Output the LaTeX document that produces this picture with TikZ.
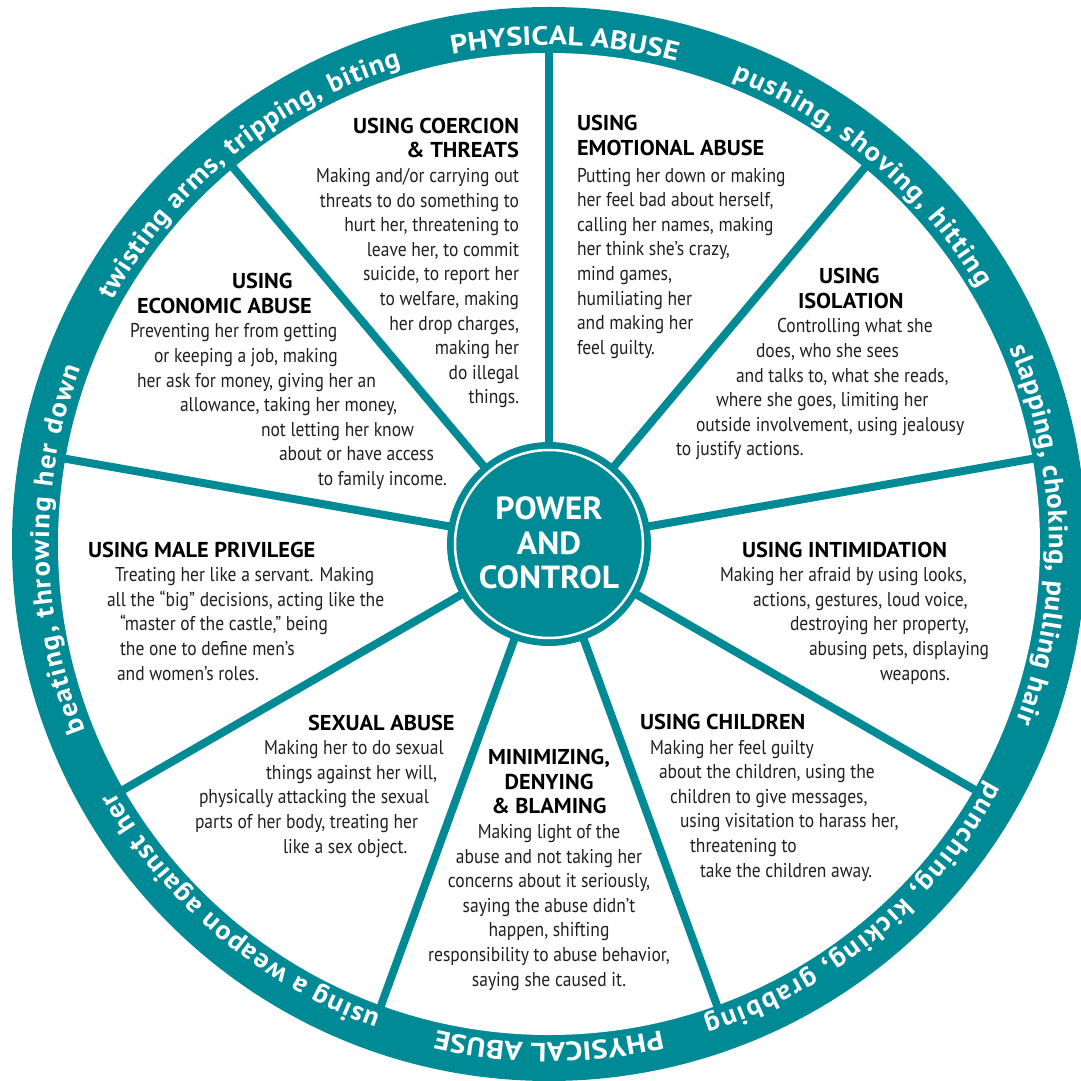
\documentclass[tikz,border=0pt]{standalone}
\usepackage{fontspec}
\usetikzlibrary{decorations.text}
\newfontfamily\bodyfont[FakeStretch=0.875]{PT Sans}
\newfontfamily\headfont[FakeStretch=1.04]{PT Sans}
\newfontfamily\ringfont[FakeStretch=1.05]{PT Sans}
\newfontfamily\capsfont[FakeStretch=1.15]{PT Sans}
\newfontfamily\hubfont[FakeStretch=1.05]{PT Sans}
\definecolor{wheel}{RGB}{0,138,150}
\definecolor{ink}{RGB}{35,31,32}
\newcommand\ttlx[1]{{\headfont\bfseries\fontsize{21.5}{24.6}\selectfont\color{black}#1}}
\newcommand\indx[1]{\hspace*{#1pt}}
\newcommand\rcaps{\capsfont\bfseries\fontsize{26.5}{30}\selectfont}
\newcommand\rlow{\ringfont\bfseries\fontsize{27}{30}\selectfont}
\tikzset{
  body/.style={font=\bodyfont\fontsize{20}{24.6}\selectfont, text=ink, inner sep=0pt, outer sep=0pt},
  spoke/.style={draw=wheel, line width=8pt},
  ringtext/.style={decorate, decoration={text along path, text align={fit to path}, text color=white}},
}
\begin{document}
\begin{tikzpicture}[x=1pt,y=1pt]
\useasboundingbox (0,0) rectangle (1081,1080);
\coordinate (C) at (549,536);
% band
\fill[wheel] (C) circle[radius=537];
\fill[white] (C) circle[radius=491];
% spokes
\foreach \a [count=\i] in {90,50,10,-30,-70,-110,-150,170,130}{
  \coordinate (s\i) at ([shift={(\a:496)}]C);
  \draw[spoke] (C) -- (s\i);
}
% hub
\node[circle, fill=wheel, minimum size=204pt, inner sep=0pt] (hub) at (C) {};
\draw[white, line width=2.5pt] (hub.center) circle[radius=94];
\node[font=\hubfont\bfseries\fontsize{32}{34.5}\selectfont, text=white, align=center, anchor=base, inner sep=0pt] (hubtext) at (549,491) {POWER\\AND\\CONTROL};
% ring texts
\path[ringtext, decoration={text={|\rcaps|PHYSICAL ABUSE}}] ([shift={(101.2:499)}]C) arc[start angle=101.2, end angle=75.3, radius=499];
\path[ringtext, decoration={text={|\rcaps|PHYSICAL ABUSE}}] ([shift={(-77:499)}]C) arc[start angle=-77, end angle=-102.7, radius=499];
\path[ringtext, decoration={text={|\rlow|pushing, shoving, hitting}}] ([shift={(68.5:500)}]C) arc[start angle=68.5, end angle=30.7, radius=500];
\path[ringtext, decoration={text={|\rlow|slapping, choking, pulling hair}}] ([shift={(23:500)}]C) arc[start angle=23, end angle=-20.8, radius=500];
\path[ringtext, decoration={text={|\rlow|punching, kicking, grabbing}}] ([shift={(-28.4:500)}]C) arc[start angle=-28.4, end angle=-72, radius=500];
\path[ringtext, decoration={text={|\rlow|using a weapon against her}}] ([shift={(250.3:500)}]C) arc[start angle=250.3, end angle=209.7, radius=500];
\path[ringtext, decoration={text={|\rlow|beating, throwing her down}}] ([shift={(201.9:500)}]C) arc[start angle=201.9, end angle=159.4, radius=500];
\path[ringtext, decoration={text={|\rlow|twisting arms, tripping, biting}}] ([shift={(150.9:500)}]C) arc[start angle=150.9, end angle=107.2, radius=500];
% sector texts (image coordinates; anchors at the last line's baseline)
\begin{scope}[y=-1pt, yshift=1080pt]
\node[body, align=right, anchor=base east] (coercion) at (519,404) {\ttlx{USING COERCION}\\\ttlx{\& THREATS}\\Making and/or carrying out\\threats to do something to\\hurt her, threatening to\\leave her, to commit\\suicide, to report her\\to welfare, making\\her drop charges,\\making her\\do illegal\\things.};
\node[body, align=left, anchor=base west] (emotional) at (577,354.4) {\ttlx{USING}\\\ttlx{EMOTIONAL ABUSE}\\[2pt]Putting her down or making\\her feel bad about herself,\\calling her names, making\\her think she’s crazy,\\mind games,\\humiliating her\\and making her\\feel guilty.};
\node[body, align=left, anchor=base west] (isolation) at (676,456) {\indx{143}\ttlx{USING}\\\indx{122}\ttlx{ISOLATION}\\\indx{101}Controlling what she\\\indx{80}does, who she sees\\\indx{60}and talks to, what she reads,\\\indx{40}where she goes, limiting her\\\indx{20}outside involvement, using jealousy\\to justify actions.};
\node[body, align=left, anchor=base west] (economic) at (130,485.5) {\indx{102}\ttlx{USING}\\\indx{7}\ttlx{ECONOMIC ABUSE}\\Preventing her from getting\\\indx{24}or keeping a job, making\\\indx{7}her ask for money, giving her an\\\indx{50}allowance, taking her money,\\\indx{131}not letting her know\\\indx{149}about or have access\\\indx{188}to family income.};
\node[body, align=left, anchor=base west] (male) at (88,680) {\ttlx{USING MALE PRIVILEGE}\\\indx{27}Treating her like a servant. Making\\\indx{19}all the “big” decisions, acting like the\\\indx{32}“master of the castle,” being\\\indx{32}the one to define men’s\\\indx{29}and women’s roles.};
\node[body, align=left, anchor=base west] (intimidation) at (720,680) {\indx{22}\ttlx{USING INTIMIDATION}\\Making her afraid by using looks,\\\indx{33}actions, gestures, loud voice,\\\indx{70}destroying her property,\\\indx{89}abusing pets, displaying\\\indx{160}weapons.};
\node[body, align=left, anchor=base west] (sexual) at (195,853) {\indx{113}\ttlx{SEXUAL ABUSE}\\\indx{69}Making her to do sexual\\\indx{71}things against her will,\\\indx{4}physically attacking the sexual\\parts of her body, treating her\\\indx{88}like a sex object.};
\node[body, align=center, anchor=base] (minimizing) at (549,986) {\ttlx{MINIMIZING,}\\\ttlx{DENYING}\\\ttlx{\& BLAMING}\\Making light of the\\abuse and not taking her\\concerns about it seriously,\\saying the abuse didn’t\\happen, shifting\\responsibility to abuse behavior,\\saying she caused it.};
\node[body, align=left, anchor=base west] (children) at (640,877) {\ttlx{USING CHILDREN}\\\indx{10}Making her feel guilty\\\indx{19}about the children, using the\\\indx{30}children to give messages,\\\indx{40}using visitation to harass her,\\\indx{50}threatening to\\\indx{60}take the children away.};
\end{scope}
\end{tikzpicture}
\end{document}
